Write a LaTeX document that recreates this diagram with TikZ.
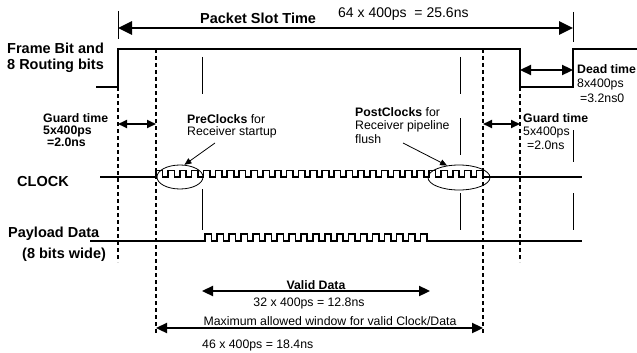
\documentclass[tikz,border=0pt]{standalone}
\usepackage{fontspec}
\setmainfont{Liberation Sans}
\usetikzlibrary{arrows.meta,shapes.geometric}
\tikzset{
  sig/.style={line width=1.7pt, line join=miter},
  guide/.style={line width=1.6pt, dash pattern=on 4pt off 3pt},
  tick/.style={line width=0.8pt},
  span/.style={line width=2.3pt, {Triangle[length=11pt,width=10pt]}-{Triangle[length=11pt,width=10pt]}},
  bigspan/.style={line width=2.8pt, {Triangle[length=14pt,width=13pt]}-{Triangle[length=14pt,width=13pt]}},
  smallspan/.style={line width=2pt, {Triangle[length=9pt,width=8pt]}-{Triangle[length=9pt,width=8pt]}},
  pointer/.style={line width=0.8pt, -{Triangle[length=7pt,width=6pt]}},
  group/.style={draw, line width=0.8pt, ellipse, inner sep=0pt},
  big/.style={font=\fontsize{14.5}{16}\selectfont\bfseries, inner sep=0pt, anchor=base west},
  note/.style={font=\fontsize{12.3}{14}\selectfont, inner sep=0pt, anchor=base west},
  bnote/.style={note, font=\fontsize{12.3}{14}\selectfont\bfseries},
}
\begin{document}
\begin{tikzpicture}[x=1pt,y=-1pt]
\useasboundingbox (0,0) rectangle (637,353);

% packet slot span
\coordinate (slotL) at (118,28);
\coordinate (slotR) at (573,28);
\draw[tick] (118,11) -- (118,39);
\draw[tick] (573,12) -- (573,42);
\draw[bigspan] (slotL) -- (slotR);
\node[big] (slottitle) at (200,23.5) {Packet Slot Time};
\node[note, font=\fontsize{14}{16}\selectfont] (slotval) at (338,18) {64 x 400ps~ = 25.6ns};

% frame bit signal
\node[big] (frame1) at (7,54) {Frame Bit and};
\node[big] (frame2) at (7,70) {8 Routing bits};
\draw[sig] (96,87) -- (118,87) -- (118,49) -- (520,49) -- (520,87) -- (573,87) -- (573,49) -- (637,49);

% dead time
\coordinate (deadL) at (520,70);
\coordinate (deadR) at (573,70);
\draw[span] (deadL) -- (deadR);
\node[bnote] (dead1) at (577,74) {Dead time};
\node[note] (dead2) at (577,88) {8x400ps};
\node[note] (dead3) at (580,102) {=3.2ns0};

% dashed guide lines
\draw[guide] (118,87) -- (118,262);
\draw[guide] (156,49) -- (156,333);
\draw[guide] (483,49) -- (483,333);
\draw[guide] (520,87) -- (520,262);

% thin markers
\draw[tick] (202,57) -- (202,94);
\draw[tick] (202,189) -- (202,230);
\draw[tick] (460,57) -- (460,94);
\draw[tick] (460,118) -- (460,155);
\draw[tick] (460,193) -- (460,230);
\draw[tick] (573,130) -- (573,162);
\draw[tick] (573,193) -- (573,230);

% guard times
\coordinate (gLa) at (118,124);
\coordinate (gLb) at (156,124);
\coordinate (gRa) at (483,124);
\coordinate (gRb) at (520,124);
\draw[smallspan] (gLa) -- (gLb);
\draw[smallspan] (gRa) -- (gRb);
\node[bnote] (gl1) at (43,122.5) {Guard time};
\node[bnote] (gl2) at (43,134.5) {5x400ps};
\node[bnote] (gl3) at (47,146.5) {=2.0ns};
\node[bnote] (gr1) at (523,122) {Guard time};
\node[note] (gr2) at (523,135.5) {5x400ps};
\node[note] (gr3) at (527,149) {=2.0ns};

% pre / post clock notes
\node[note] (pre1) at (187,123) {\textbf{PreClocks} for};
\node[note] (pre2) at (187,135.5) {Receiver startup};
\node[note] (post1) at (355,116) {\textbf{PostClocks} for};
\node[note] (post2) at (355,129.5) {Receiver pipeline};
\node[note] (post3) at (355,143.5) {flush};

% clock
\node[big] (clk) at (17,186) {CLOCK};
\draw[sig] (100,177) -- (156,177)
  \foreach \k in {0,...,27} { -- ++(0,-6.5) -- ++(6.53,0) -- ++(0,6.5) -- ++(5.34,0) }
  -- (582,177);

% payload data
\node[big] (pay1) at (8,237) {Payload Data};
\node[big] (pay2) at (22,258) {(8 bits wide)};
\draw[sig] (90,241) -- (205,241)
  \foreach \k in {1,...,19} { -- ++(0,-7) -- ++(6.58,0) -- ++(0,7) -- ++(5.39,0) }
  -- (582,241);

% clock groups
\node[group, minimum width=46pt, minimum height=24pt] (preE) at (180,177) {};
\node[group, minimum width=62pt, minimum height=25pt] (postE) at (459,177.5) {};
\coordinate (preP) at (215,143);
\coordinate (postP) at (403,143);
\draw[pointer] (preP) -- (preE.70);
\draw[pointer] (postP) -- (postE.135);

% valid data and window
\coordinate (vdL) at (202,291);
\coordinate (vdR) at (430,291);
\draw[span] (vdL) -- (vdR);
\node[bnote, anchor=base] (vd) at (316,289) {Valid Data};
\node[note, anchor=base] (vdval) at (309,306) {32 x 400ps = 12.8ns};
\node[note, anchor=base] (win) at (330,325) {Maximum allowed window for valid Clock/Data};
\coordinate (wL) at (156,328);
\coordinate (wR) at (483,328);
\draw[span] (wL) -- (wR);
\node[note] (winval) at (202,348) {46 x 400ps = 18.4ns};
\end{tikzpicture}
\end{document}
